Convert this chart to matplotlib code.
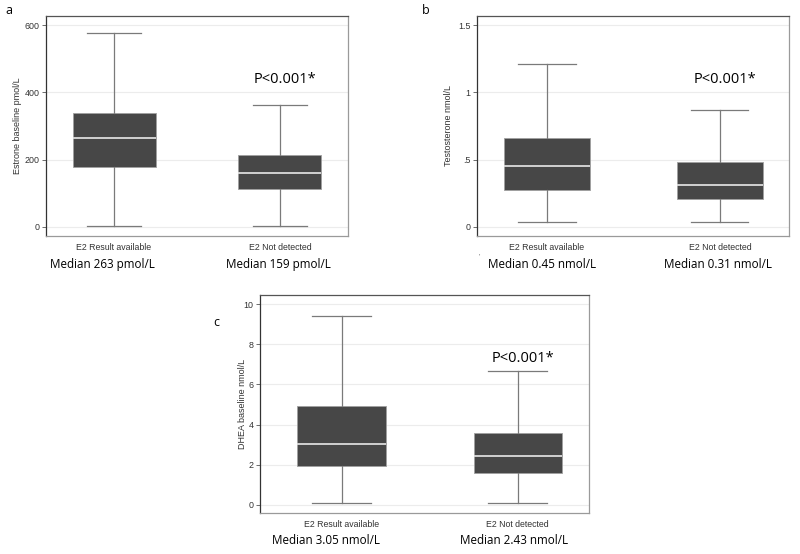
import matplotlib
matplotlib.use("Agg")
import matplotlib.pyplot as plt
import matplotlib.transforms as mtransforms

groups = ["E2 Result available", "E2 Not detected"]

# panel a: estrone (pmol/L)
estrone_whislo = [3, 3]
estrone_q1 = [178, 114]
estrone_med = [263, 159]
estrone_q3 = [338, 213]
estrone_whishi = [576, 362]

# panel b: testosterone (nmol/L)
testo_whislo = [0.035, 0.035]
testo_q1 = [0.278, 0.209]
testo_med = [0.45, 0.31]
testo_q3 = [0.658, 0.482]
testo_whishi = [1.214, 0.867]

# panel c: DHEA (nmol/L)
dhea_whislo = [0.07, 0.07]
dhea_q1 = [1.95, 1.58]
dhea_med = [3.05, 2.43]
dhea_q3 = [4.94, 3.58]
dhea_whishi = [9.43, 6.66]

panels = [
    dict(letter="a", ylabel="Estrone baseline pmol/L", unit="pmol/L", fmt="{:.0f}",
         stats=(estrone_whislo, estrone_q1, estrone_med, estrone_q3, estrone_whishi),
         yticks=[0, 200, 400, 600], yticklabels=["0", "200", "400", "600"],
         ylim=(-27, 627), xlim=(0.59, 2.41), ptext_y=437,
         rect=[46 / 800, 1 - 236 / 554, 302 / 800, 220 / 554],
         letter_xy=(5, 10), med_dx=[-0.07, -0.01], ylab_x=-0.096),
    dict(letter="b", ylabel="Testosterone nmol/L", unit="nmol/L", fmt="{:.2f}",
         stats=(testo_whislo, testo_q1, testo_med, testo_q3, testo_whishi),
         yticks=[0, 0.5, 1, 1.5], yticklabels=["0", ".5", "1", "1.5"],
         ylim=(-0.067, 1.567), xlim=(0.595, 2.40), ptext_y=1.095,
         rect=[477 / 800, 1 - 236 / 554, 312 / 800, 220 / 554],
         letter_xy=(422, 10), med_dx=[-0.03, -0.01], ylab_x=-0.090),
    dict(letter="c", ylabel="DHEA baseline nmol/L", unit="nmol/L", fmt="{:.2f}",
         stats=(dhea_whislo, dhea_q1, dhea_med, dhea_q3, dhea_whishi),
         yticks=[0, 2, 4, 6, 8, 10], yticklabels=["0", "2", "4", "6", "8", "10"],
         ylim=(-0.414, 10.46), xlim=(0.537, 2.406), ptext_y=7.29,
         rect=[260 / 800, 1 - 513 / 554, 329 / 800, 218 / 554],
         letter_xy=(213, 322), med_dx=[-0.09, -0.02], ylab_x=-0.052),
]

fig = plt.figure(figsize=(8, 5.54), dpi=100)

for p in panels:
    ax = fig.add_axes(p["rect"])
    lo, q1, med, q3, hi = p["stats"]
    bstats = []
    for i, g in enumerate(groups):
        bstats.append(dict(label=g, whislo=lo[i], q1=q1[i], med=med[i],
                           q3=q3[i], whishi=hi[i], fliers=[]))
    ax.bxp(bstats, positions=[1, 2], widths=0.5, patch_artist=True,
           showfliers=False,
           boxprops=dict(facecolor="#474747", edgecolor="#a0a0a0", linewidth=0.6),
           medianprops=dict(color="#dcdcdc", linewidth=1.3),
           whiskerprops=dict(color="#7a7a7a", linewidth=0.9),
           capprops=dict(color="#7a7a7a", linewidth=0.9),
           capwidths=0.33, zorder=3)
    ax.set_xlim(*p["xlim"])
    ax.set_ylim(*p["ylim"])
    ax.set_yticks(p["yticks"])
    ax.set_yticklabels(p["yticklabels"])
    ax.yaxis.grid(True, color="#ececec", linewidth=0.8, zorder=0)
    ax.set_axisbelow(True)
    ax.tick_params(axis="y", length=3, width=0.6, color="#555555",
                   labelsize=6.4, labelcolor="#333333", pad=1.5)
    ax.tick_params(axis="x", length=0, labelsize=6.3, labelcolor="#333333", pad=5)
    for t in ax.get_xticklabels() + ax.get_yticklabels():
        t.set_fontfamily("Liberation Sans")
    ax.set_ylabel(p["ylabel"], fontsize=6.5, color="#333333",
                  fontfamily="Liberation Sans", va="center")
    ax.yaxis.set_label_coords(p["ylab_x"], 0.5)
    ax.spines["left"].set_color("#333333")
    ax.spines["top"].set_color("#555555")
    ax.spines["right"].set_color("#9a9a9a")
    ax.spines["bottom"].set_color("#9a9a9a")
    for s in ax.spines.values():
        s.set_linewidth(0.9)

    ax.text(2.03, p["ptext_y"], "P<0.001*", ha="center", va="center",
            fontsize=10.5, fontfamily="Open Sans", color="black")

    trans = mtransforms.blended_transform_factory(ax.transData, ax.transAxes)
    for i in range(2):
        label = "Median " + p["fmt"].format(med[i]) + " " + p["unit"]
        ax.text(1 + i + p["med_dx"][i], -0.128, label, transform=trans,
                ha="center", va="center", fontsize=8.4,
                fontfamily="Open Sans", color="black")

    lx, ly = p["letter_xy"]
    fig.text(lx / 800, 1 - ly / 554, p["letter"], ha="left", va="center",
             fontsize=9, fontfamily="Open Sans")

fig.text(479 / 800, 1 - 256 / 554, "'", fontsize=4, color="#555555",
         ha="center", va="center")

fig.savefig("out.png", dpi=100)
